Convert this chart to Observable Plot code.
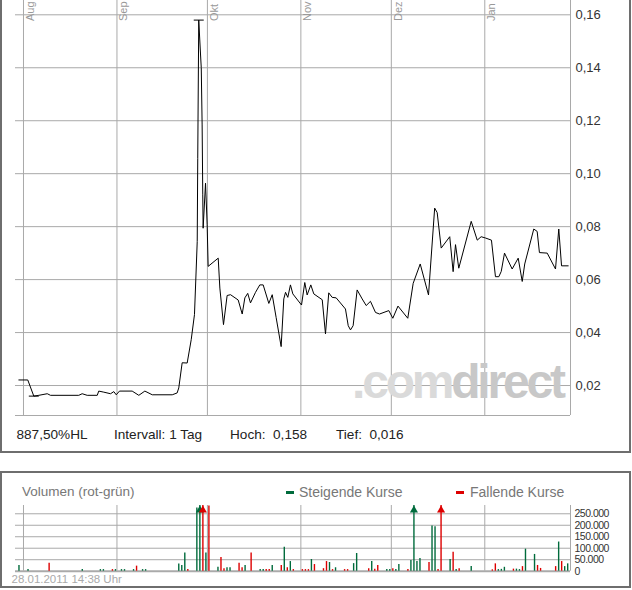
<!DOCTYPE html>
<html><head><meta charset="utf-8">
<script src="https://cdn.jsdelivr.net/npm/d3@7"></script>
<script src="https://cdn.jsdelivr.net/npm/@observablehq/plot@0.6"></script>
<style>
body{margin:0;background:#fff;}
#wrap{position:relative;width:632px;height:590px;overflow:hidden;font-family:Arial,"Liberation Sans",sans-serif;}
.abs{position:absolute;white-space:pre;}
.box{position:absolute;box-sizing:border-box;border:2px solid #6e6e6e;}
svg{position:absolute;left:0;}
</style></head><body><div id="wrap"></div>
<script>
// ---------- price data ----------
const priceDates = [
"2010-07-30T11:00Z","2010-08-02T10:00Z","2010-08-04T10:00Z","2010-08-06T02:00Z","2010-08-08T21:00Z","2010-08-09T23:00Z",
"2010-08-19T08:00Z","2010-08-20T11:00Z","2010-08-22T03:00Z","2010-08-25T11:00Z","2010-08-25T23:00Z","2010-08-27T15:00Z",
"2010-08-29T21:00Z","2010-08-30T23:00Z","2010-08-31T18:00Z","2010-09-01T20:00Z","2010-09-06T01:00Z","2010-09-08T06:00Z",
"2010-09-10T06:00Z","2010-09-12T17:00Z","2010-09-19T08:00Z","2010-09-20T23:00Z","2010-09-21T12:00Z","2010-09-22T15:00Z",
"2010-09-24T07:00Z","2010-09-25T15:00Z","2010-09-26T17:00Z","2010-09-27T15:00Z","2010-09-27T19:00Z","2010-09-28T03:00Z",
"2010-09-28T17:00Z","2010-09-28T23:00Z","2010-09-29T06:00Z","2010-09-29T11:00Z","2010-09-29T14:00Z","2010-09-30T09:00Z",
"2010-09-30T22:00Z","2010-10-01T06:00Z","2010-10-04T14:00Z","2010-10-05T03:00Z","2010-10-06T08:00Z","2010-10-07T13:00Z",
"2010-10-08T16:00Z","2010-10-11T05:00Z","2010-10-12T13:00Z","2010-10-13T10:00Z","2010-10-14T09:00Z","2010-10-15T07:00Z",
"2010-10-16T23:00Z","2010-10-18T09:00Z","2010-10-19T12:00Z","2010-10-21T09:00Z","2010-10-22T12:00Z","2010-10-23T19:00Z",
"2010-10-25T11:00Z","2010-10-26T08:00Z","2010-10-26T22:00Z","2010-10-27T16:00Z","2010-10-28T13:00Z","2010-10-29T08:00Z",
"2010-11-01T05:00Z","2010-11-02T07:00Z","2010-11-03T02:00Z","2010-11-04T07:00Z","2010-11-05T07:00Z","2010-11-08T02:00Z",
"2010-11-09T04:00Z","2010-11-10T06:00Z","2010-11-11T09:00Z","2010-11-12T17:00Z","2010-11-15T19:00Z","2010-11-16T17:00Z",
"2010-11-17T11:00Z","2010-11-18T08:00Z","2010-11-19T16:00Z","2010-11-21T08:00Z","2010-11-22T16:00Z","2010-11-24T02:00Z",
"2010-11-25T18:00Z","2010-11-27T02:00Z","2010-11-30T04:00Z","2010-12-01T12:00Z","2010-12-03T05:00Z","2010-12-06T11:00Z",
"2010-12-08T06:00Z","2010-12-10T14:00Z","2010-12-13T08:00Z","2010-12-15T09:00Z","2010-12-16T05:00Z","2010-12-17T13:00Z",
"2010-12-20T09:00Z","2010-12-21T12:00Z","2010-12-22T07:00Z","2010-12-23T09:00Z","2010-12-27T12:00Z","2010-12-29T12:00Z",
"2010-12-30T19:00Z","2011-01-01T06:00Z","2011-01-03T05:00Z","2011-01-04T13:00Z","2011-01-05T16:00Z","2011-01-06T11:00Z",
"2011-01-07T13:00Z","2011-01-10T02:00Z","2011-01-12T02:00Z","2011-01-13T10:00Z","2011-01-14T06:00Z","2011-01-17T06:00Z",
"2011-01-18T09:00Z","2011-01-19T03:00Z","2011-01-21T17:00Z","2011-01-24T11:00Z","2011-01-25T13:00Z","2011-01-26T11:00Z",
"2011-01-28T16:00Z"];
const priceValues = [
0.0221,0.0221,0.0160,0.0163,0.0169,0.0163,
0.0163,0.0169,0.0163,0.0163,0.0179,0.0175,
0.0169,0.0177,0.0165,0.0179,0.0179,0.0163,
0.0179,0.0165,0.0165,0.0172,0.0191,0.0286,
0.0285,0.0373,0.0468,0.0744,0.1058,0.158,
0.1452,0.140,0.1184,0.092,0.0794,0.0964,
0.0807,0.065,0.0681,0.0568,0.043,0.054,
0.0543,0.0523,0.047,0.0531,0.0548,0.0512,
0.0552,0.058,0.058,0.051,0.0543,0.0457,
0.0347,0.0527,0.0552,0.0533,0.058,0.0546,
0.0504,0.0589,0.0542,0.058,0.0546,0.0524,
0.0395,0.055,0.0533,0.0531,0.0489,0.0426,
0.041,0.0426,0.0561,0.0527,0.0502,0.0518,
0.0476,0.047,0.0483,0.0454,0.05,0.0454,
0.0586,0.0659,0.0542,0.087,0.0853,0.0719,
0.0762,0.063,0.0732,0.0643,0.082,0.0749,
0.0762,0.0757,0.0749,0.0611,0.0611,0.0631,
0.07,0.064,0.0681,0.0593,0.0659,0.0791,
0.0782,0.0702,0.07,0.064,0.0791,0.0652,
0.0652];
// high / low markers
const extremeDates = ["2010-09-28T03:00Z","2010-08-04T10:00Z"];
const extremeValues = [0.158, 0.016];

const monthStarts = ["2010-08-01","2010-09-01","2010-10-01","2010-11-01","2010-12-01","2011-01-01"];
const monthLabels = ["Aug","Sep","Okt","Nov","Dez","Jan"];
const priceTicks = [0.02,0.04,0.06,0.08,0.10,0.12,0.14,0.16];

// ---------- volume data ----------
const volDates = [
"2010-07-30","2010-08-02","2010-08-09","2010-08-20","2010-08-26","2010-08-27","2010-08-30","2010-08-31",
"2010-09-02","2010-09-03","2010-09-06","2010-09-07","2010-09-09","2010-09-10","2010-09-21","2010-09-22",
"2010-09-23","2010-09-24","2010-09-27","2010-09-28","2010-09-29","2010-09-30","2010-10-01","2010-10-04",
"2010-10-05","2010-10-06","2010-10-07","2010-10-08","2010-10-11","2010-10-12","2010-10-13","2010-10-15",
"2010-10-18","2010-10-19","2010-10-20","2010-10-21","2010-10-22","2010-10-25","2010-10-26","2010-10-27",
"2010-10-28","2010-10-29","2010-11-01","2010-11-02","2010-11-03","2010-11-04","2010-11-05","2010-11-08",
"2010-11-09","2010-11-10","2010-11-11","2010-11-12","2010-11-15","2010-11-16","2010-11-18","2010-11-19",
"2010-11-23","2010-11-24","2010-11-25","2010-11-26","2010-11-29","2010-11-30","2010-12-01","2010-12-02",
"2010-12-03","2010-12-06","2010-12-07","2010-12-08","2010-12-09","2010-12-10","2010-12-13","2010-12-14",
"2010-12-15","2010-12-16","2010-12-17","2010-12-20","2010-12-21","2010-12-22","2010-12-23","2010-12-27",
"2011-01-03","2011-01-04","2011-01-05","2011-01-06","2011-01-07","2011-01-10","2011-01-11","2011-01-12",
"2011-01-13","2011-01-14","2011-01-17","2011-01-18","2011-01-19","2011-01-24","2011-01-25","2011-01-26",
"2011-01-27","2011-01-28"];
const volValues = [
25000,7000,35000,7000,7000,7000,7000,7000,
7000,7000,7000,22000,7000,7000,31000,25000,
79000,7000,275000,650000,520000,79000,284000,17000,
60000,11000,15000,15000,35000,15000,25000,79000,
7000,7000,7000,7000,25000,25000,104000,15000,
42000,7000,7000,7000,7000,51000,29000,11000,
42000,38000,7000,15000,7000,7000,33000,77000,
11000,42000,8000,25000,7000,7000,11000,7000,
29000,7000,47000,400000,42000,55000,38000,197000,
193000,7000,350000,51000,82000,7000,11000,20000,
6000,32000,7000,8000,17000,9000,9000,7000,
20000,96000,73000,25000,12000,20000,127000,42000,
20000,32000];
const volDir = [
"up","up","down","up","up","up","down","up",
"up","up","up","down","up","up","up","up",
"up","down","up","up","down","up","down","up",
"down","down","up","up","down","down","up","down",
"up","up","down","down","up","down","up","down",
"up","down","down","down","down","up","down","down",
"down","up","down","up","down","down","up","up",
"down","up","down","down","up","up","down","up",
"up","down","up","up","up","up","down","up",
"up","down","down","up","down","up","down","up",
"down","down","up","up","up","down","up","up",
"down","up","up","down","down","down","up","down",
"up","up"];
const volTicks = [0,50000,100000,150000,200000,250000];
const dirNames = ["up","down"];
const dirColors = ["#006b3c","#dd0000"];

// ---------- build ----------
const xDomain = [new Date("2010-07-29T08:20Z"), new Date("2011-01-29T10:20Z")];
const yDomain = [0.00868, 0.1654];
const vMax = 286000;
const font = "Arial, 'Liberation Sans', sans-serif";
const wrap = document.getElementById("wrap");

const price = priceDates.map((d,i)=>({date:new Date(d), value:priceValues[i]}));
const extremes = extremeDates.map((d,i)=>({date:new Date(d), value:extremeValues[i]}));
const months = monthStarts.map((m,i)=>({date:new Date(m+"T00:00Z"), label:monthLabels[i]}));
const vol = volDates.map((d,i)=>({date:new Date(d+"T12:00Z"), v:volValues[i], dir:volDir[i]}));

const hBar = {draw(ctx){ ctx.moveTo(-5,0); ctx.lineTo(5,0); }};
const grid = "#a9a9a9";

const p1 = Plot.plot({
  width:632, height:420, marginLeft:15, marginRight:62, marginTop:0, marginBottom:5,
  style:{background:"transparent", fontFamily:font, fontSize:"13px", color:"#333"},
  x:{type:"utc", domain:xDomain, axis:null},
  y:{domain:yDomain, axis:"right", ticks:priceTicks, tickFormat:d=>d.toFixed(2).replace(".",","), tickSize:0, tickPadding:5, label:null},
  marks:[
    Plot.ruleY(priceTicks, {stroke:grid}),
    Plot.ruleX(months, {x:"date", stroke:grid}),
    Plot.ruleX([xDomain[1]], {stroke:grid}),
    Plot.ruleY([yDomain[0]], {stroke:grid}),
    Plot.text(months, {x:"date", text:"label", frameAnchor:"top", rotate:-90, textAnchor:"start", lineAnchor:"bottom", dx:10.5, dy:20.5, fill:"#999", fontSize:11}),
    Plot.line(price, {x:"date", y:"value", stroke:"#000", strokeWidth:1}),
    Plot.dot(extremes, {x:"date", y:"value", symbol:hBar, fill:"none", stroke:"#000", strokeWidth:1})
  ]
});
p1.style.top = "0px";
wrap.appendChild(p1);

// watermark, between grid and line
const NS = "http://www.w3.org/2000/svg";
const wm = document.createElementNS(NS, "text");
wm.setAttribute("x", 352); wm.setAttribute("y", 398);
wm.setAttribute("text-anchor", "start");
wm.setAttribute("font-family", font); wm.setAttribute("font-size", 48);
wm.setAttribute("font-weight", "bold"); wm.setAttribute("letter-spacing", "-3.2");
const t1 = document.createElementNS(NS, "tspan"); t1.textContent = ".com"; t1.setAttribute("fill", "#dadada");
const t2 = document.createElementNS(NS, "tspan"); t2.textContent = "direct"; t2.setAttribute("fill", "#c8c8c8");
wm.appendChild(t1); wm.appendChild(t2);
const lineG = p1.querySelector('g[aria-label="line"]');
p1.insertBefore(wm, lineG);

const p2 = Plot.plot({
  width:632, height:92, marginLeft:15, marginRight:62, marginTop:10, marginBottom:16.3,
  style:{background:"transparent", fontFamily:font, fontSize:"10.5px", color:"#333", letterSpacing:"-0.5px"},
  x:{type:"utc", domain:xDomain, axis:null},
  y:{domain:[0,vMax], axis:"right", ticks:volTicks, tickFormat:d=>d3.format(",")(d).replace(/,/g,"."), tickSize:0, tickPadding:4, label:null},
  color:{domain:dirNames, range:dirColors},
  marks:[
    Plot.ruleY(volTicks.filter(t=>t>0), {stroke:grid}),
    Plot.ruleX(months, {x:"date", stroke:grid}),
    Plot.ruleX([xDomain[1]], {stroke:grid}),
    Plot.ruleY([0], {stroke:"#aaa", strokeWidth:2}),
    Plot.ruleX(vol, {x:"date", y1:0, y2:d=>Math.min(d.v, vMax), stroke:"dir", strokeWidth:1.4}),
    Plot.dot(vol.filter(d=>d.v>vMax), {x:"date", y:()=>vMax, symbol:"triangle", fill:"dir", stroke:"none", r:3, dy:4.7})
  ]
});
p2.style.top = "495px";
wrap.appendChild(p2);

// ---------- html texts & frames ----------
function addBox(l,t,w,h){const b=document.createElement("div");b.className="box";Object.assign(b.style,{left:l+"px",top:t+"px",width:w+"px",height:h+"px"});wrap.appendChild(b);}
addBox(0,-3,631,456);
addBox(0,471,631,117);
function addText(txt,x,baseline,size,color){
  const s=document.createElement("div");s.className="abs";s.textContent=txt;
  Object.assign(s.style,{left:x+"px",top:(baseline-size*0.905)+"px",fontSize:size+"px",lineHeight:"normal",color:color});
  wrap.appendChild(s);
}
const statTexts = ["887,50%HL","Intervall: 1 Tag","Hoch:  0,158","Tief:  0,016"];
const statX = [16.5,114,230,336];
statTexts.forEach((t,i)=>addText(t,statX[i],439,13.6,"#222"));
addText("Volumen (rot-grün)",22,496.5,13.5,"#777");
addText("Steigende Kurse",299,496.5,14,"#777");
addText("Fallende Kurse",470,496.5,14,"#777");
addText("28.01.2011 14:38 Uhr",11.5,583,11.5,"#aaa");
function addDash(x,color){const d=document.createElement("div");Object.assign(d.style,{position:"absolute",left:x+"px",top:"491px",width:"8px",height:"3px",background:color});wrap.appendChild(d);}
addDash(285.5,dirColors[0]);
addDash(455.5,dirColors[1]);
</script></body></html>
